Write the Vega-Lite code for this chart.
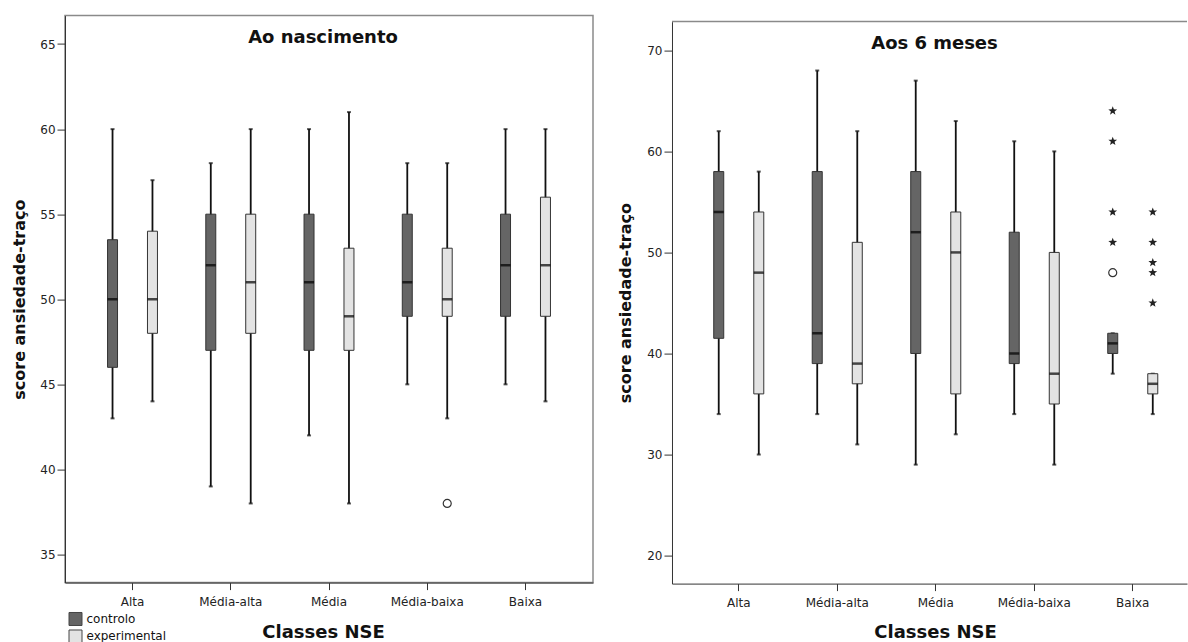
{
  "$schema": "https://vega.github.io/schema/vega-lite/v6.json",
  "padding": {"left": 10, "top": 14.6, "right": 0, "bottom": 0},
  "background": "white",
  "bounds": "flush",
  "spacing": 79,
  "config": {
    "view": {"stroke": null},
    "axis": {
      "labelFont": "DejaVu Sans", "labelFontSize": 12, "labelColor": "#222",
      "titleFont": "DejaVu Sans", "titleFontWeight": "bold", "titleColor": "#111",
      "domainColor": "#333", "tickColor": "#333", "grid": false
    }
  },
  "datasets": {
    "nasc": [
      {"classe": "Alta", "grupo": "controlo", "lower": 43, "q1": 46, "median": 50, "q3": 53.5, "upper": 60},
      {"classe": "Alta", "grupo": "experimental", "lower": 44, "q1": 48, "median": 50, "q3": 54, "upper": 57},
      {"classe": "Média-alta", "grupo": "controlo", "lower": 39, "q1": 47, "median": 52, "q3": 55, "upper": 58},
      {"classe": "Média-alta", "grupo": "experimental", "lower": 38, "q1": 48, "median": 51, "q3": 55, "upper": 60},
      {"classe": "Média", "grupo": "controlo", "lower": 42, "q1": 47, "median": 51, "q3": 55, "upper": 60},
      {"classe": "Média", "grupo": "experimental", "lower": 38, "q1": 47, "median": 49, "q3": 53, "upper": 61},
      {"classe": "Média-baixa", "grupo": "controlo", "lower": 45, "q1": 49, "median": 51, "q3": 55, "upper": 58},
      {"classe": "Média-baixa", "grupo": "experimental", "lower": 43, "q1": 49, "median": 50, "q3": 53, "upper": 58},
      {"classe": "Baixa", "grupo": "controlo", "lower": 45, "q1": 49, "median": 52, "q3": 55, "upper": 60},
      {"classe": "Baixa", "grupo": "experimental", "lower": 44, "q1": 49, "median": 52, "q3": 56, "upper": 60}
    ],
    "seis": [
      {"classe": "Alta", "grupo": "controlo", "lower": 34, "q1": 41.5, "median": 54, "q3": 58, "upper": 62},
      {"classe": "Alta", "grupo": "experimental", "lower": 30, "q1": 36, "median": 48, "q3": 54, "upper": 58},
      {"classe": "Média-alta", "grupo": "controlo", "lower": 34, "q1": 39, "median": 42, "q3": 58, "upper": 68},
      {"classe": "Média-alta", "grupo": "experimental", "lower": 31, "q1": 37, "median": 39, "q3": 51, "upper": 62},
      {"classe": "Média", "grupo": "controlo", "lower": 29, "q1": 40, "median": 52, "q3": 58, "upper": 67},
      {"classe": "Média", "grupo": "experimental", "lower": 32, "q1": 36, "median": 50, "q3": 54, "upper": 63},
      {"classe": "Média-baixa", "grupo": "controlo", "lower": 34, "q1": 39, "median": 40, "q3": 52, "upper": 61},
      {"classe": "Média-baixa", "grupo": "experimental", "lower": 29, "q1": 35, "median": 38, "q3": 50, "upper": 60},
      {"classe": "Baixa", "grupo": "controlo", "lower": 38, "q1": 40, "median": 41, "q3": 42, "upper": 42},
      {"classe": "Baixa", "grupo": "experimental", "lower": 34, "q1": 36, "median": 37, "q3": 38, "upper": 38}
    ],
    "circ0": [
      {"classe": "Média-baixa", "grupo": "experimental", "valor": 38}
    ],
    "circ6": [
      {"classe": "Baixa", "grupo": "controlo", "valor": 48}
    ],
    "estr6": [
      {"classe": "Baixa", "grupo": "controlo", "valor": 64},
      {"classe": "Baixa", "grupo": "controlo", "valor": 61},
      {"classe": "Baixa", "grupo": "controlo", "valor": 54},
      {"classe": "Baixa", "grupo": "controlo", "valor": 51},
      {"classe": "Baixa", "grupo": "experimental", "valor": 54},
      {"classe": "Baixa", "grupo": "experimental", "valor": 51},
      {"classe": "Baixa", "grupo": "experimental", "valor": 49},
      {"classe": "Baixa", "grupo": "experimental", "valor": 48},
      {"classe": "Baixa", "grupo": "experimental", "valor": 45}
    ]
  },
  "hconcat": [
    {
      "width": 528,
      "height": 567,
      "view": {"stroke": "#8a8a8a", "strokeWidth": 1.5},
      "title": {"text": "Ao nascimento", "font": "DejaVu Sans", "fontSize": 18, "fontWeight": "bold", "color": "#111", "anchor": "middle", "frame": "group", "offset": -45.7, "baseline": "alphabetic", "dx": -6},
      "data": {"name": "nasc"},
      "encoding": {
        "x": {"field": "classe", "type": "nominal", "sort": ["Alta", "Média-alta", "Média", "Média-baixa", "Baixa"],
          "scale": {"paddingInner": 0, "paddingOuter": 0.187},
          "axis": {"title": "Classes NSE", "labelAngle": 0, "tickSize": 7, "labelPadding": 7, "titleFontSize": 18, "titleX": 258, "titleY": 55.2, "titleBaseline": "alphabetic", "titleAlign": "center"}},
        "xOffset": {"field": "grupo", "type": "nominal", "sort": ["controlo", "experimental"], "scale": {"paddingInner": 0.75, "paddingOuter": 0.605}}
      },
      "layer": [
        {"mark": {"type": "rule", "strokeWidth": 1.8, "color": "#111"},
          "encoding": {
            "y": {"field": "lower", "type": "quantitative", "title": "score ansiedade-traço",
              "scale": {"domain": [33.35, 66.67], "nice": false, "zero": false},
              "axis": {"values": [35, 40, 45, 50, 55, 60, 65], "tickSize": 8, "labelPadding": 2, "titleFontSize": 16, "titleX": -41, "titleBaseline": "alphabetic", "titleAngle": -90}},
            "y2": {"field": "upper"}}},
        {"mark": {"type": "tick", "orient": "horizontal", "size": 4, "thickness": 2, "color": "#111"},
          "encoding": {"y": {"field": "lower", "type": "quantitative", "title": "score ansiedade-traço"}}},
        {"mark": {"type": "tick", "orient": "horizontal", "size": 4, "thickness": 2, "color": "#111"},
          "encoding": {"y": {"field": "upper", "type": "quantitative", "title": "score ansiedade-traço"}}},
        {"mark": {"type": "bar", "stroke": "#333", "strokeWidth": 1},
          "encoding": {
            "y": {"field": "q1", "type": "quantitative", "title": "score ansiedade-traço"},
            "y2": {"field": "q3"},
            "fill": {"field": "grupo", "type": "nominal",
              "scale": {"domain": ["controlo", "experimental"], "range": ["#656565", "#e3e3e3"]},
              "legend": {"orient": "none", "legendX": 3.5, "legendY": 596.4, "title": null, "symbolType": "square", "symbolSize": 169, "symbolStrokeColor": "#444", "symbolStrokeWidth": 1, "symbolOpacity": 1, "labelFont": "DejaVu Sans", "labelFontSize": 12, "labelColor": "#111", "labelOffset": 4, "rowPadding": -0.5, "padding": 0}}}},
        {"mark": {"type": "tick", "orient": "horizontal", "size": 10, "thickness": 2.5, "color": "#000"},
          "encoding": {"y": {"field": "median", "type": "quantitative", "title": "score ansiedade-traço"}}},
        {"data": {"name": "circ0"},
          "mark": {"type": "point", "shape": "circle", "filled": false, "size": 64, "stroke": "#333", "strokeWidth": 1.2, "opacity": 1},
          "encoding": {"y": {"field": "valor", "type": "quantitative", "title": "score ansiedade-traço"}}}
      ]
    },
    {
      "width": 515,
      "height": 568,
      "title": {"text": "Aos 6 meses", "font": "DejaVu Sans", "fontSize": 18, "fontWeight": "bold", "color": "#111", "anchor": "middle", "frame": "group", "offset": -51.7, "baseline": "alphabetic", "dx": 5},
      "data": {"name": "seis"},
      "layer": [
        {
          "encoding": {
            "x": {"field": "classe", "type": "nominal", "sort": ["Alta", "Média-alta", "Média", "Média-baixa", "Baixa"],
              "scale": {"paddingInner": 0, "paddingOuter": 0.1142, "align": 0.778},
              "axis": {"title": "Classes NSE", "labelAngle": 0, "tickSize": 7, "labelPadding": 7, "titleFontSize": 18, "titleX": 263, "titleY": 54.2, "titleBaseline": "alphabetic", "titleAlign": "center"}},
            "xOffset": {"field": "grupo", "type": "nominal", "sort": ["controlo", "experimental"], "scale": {"paddingInner": 0.75, "paddingOuter": 0.605}}
          },
          "layer": [
            {"mark": {"type": "rule", "strokeWidth": 1.8, "color": "#111"},
              "encoding": {
                "y": {"field": "lower", "type": "quantitative", "title": "score ansiedade-traço",
                  "scale": {"domain": [17.23, 72.84], "range": [568, 6], "nice": false, "zero": false},
                  "axis": {"values": [20, 30, 40, 50, 60, 70], "tickSize": 8, "labelPadding": 2, "titleFontSize": 16, "titleX": -41, "titleBaseline": "alphabetic", "titleAngle": -90}},
                "y2": {"field": "upper"}}},
            {"mark": {"type": "tick", "orient": "horizontal", "size": 4, "thickness": 2, "color": "#111"},
              "encoding": {"y": {"field": "lower", "type": "quantitative", "title": "score ansiedade-traço"}}},
            {"mark": {"type": "tick", "orient": "horizontal", "size": 4, "thickness": 2, "color": "#111"},
              "encoding": {"y": {"field": "upper", "type": "quantitative", "title": "score ansiedade-traço"}}},
            {"mark": {"type": "bar", "stroke": "#333", "strokeWidth": 1},
              "encoding": {
                "y": {"field": "q1", "type": "quantitative", "title": "score ansiedade-traço"},
                "y2": {"field": "q3"},
                "fill": {"field": "grupo", "type": "nominal",
                  "scale": {"domain": ["controlo", "experimental"], "range": ["#656565", "#e3e3e3"]},
                  "legend": null}}},
            {"mark": {"type": "tick", "orient": "horizontal", "size": 10, "thickness": 2.5, "color": "#000"},
              "encoding": {"y": {"field": "median", "type": "quantitative", "title": "score ansiedade-traço"}}},
            {"data": {"name": "circ6"},
              "mark": {"type": "point", "shape": "circle", "filled": false, "size": 64, "stroke": "#333", "strokeWidth": 1.2, "opacity": 1},
              "encoding": {"y": {"field": "valor", "type": "quantitative", "title": "score ansiedade-traço"}}},
            {"data": {"name": "estr6"},
              "mark": {"type": "point", "shape": "M0,-1L0.247,-0.34L0.951,-0.309L0.399,0.13L0.588,0.809L0,0.42L-0.588,0.809L-0.399,0.13L-0.951,-0.309L-0.247,-0.34Z", "filled": true, "size": 85, "fill": "#222", "strokeWidth": 0, "opacity": 1},
              "encoding": {"y": {"field": "valor", "type": "quantitative", "title": "score ansiedade-traço"}}}
          ]
        },
        {"data": {"values": [{}]},
          "mark": {"type": "rule", "color": "#8a8a8a", "strokeWidth": 1.5},
          "encoding": {"y": {"datum": 72.84}}}
      ]
    }
  ],
  "resolve": {
    "scale": {"x": "independent", "y": "independent", "xOffset": "independent"},
    "legend": {"fill": "independent"}
  }
}
